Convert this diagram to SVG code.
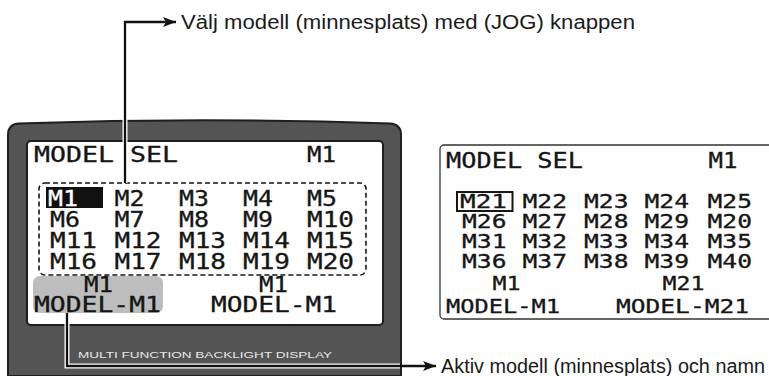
<svg xmlns="http://www.w3.org/2000/svg" width="769" height="376" viewBox="0 0 769 376">
<style>
.lcd{font-family:"DejaVu Sans Mono","Liberation Mono",monospace;font-size:20.5px;fill:#151515;stroke:#151515;stroke-width:0.3}
.sm{font-size:19px}
.inv{fill:#ffffff;stroke:#ffffff}
.lbl{font-family:"Liberation Sans",Arial,sans-serif;font-size:19.5px;fill:#1a1a1a}
.halo{fill:none;stroke:#ffffff;stroke-width:5}
.wire{fill:none;stroke:#111111;stroke-width:2.3}
</style>
<defs>
<marker id="arr" markerUnits="userSpaceOnUse" markerWidth="14" markerHeight="10" refX="13" refY="5" orient="auto">
<path d="M0,0 L13,5 L0,10 L3,5 z" fill="#111111"/>
</marker>
</defs>
<g id="device">
<path d="M8,376 L8,135 Q8,124 19,123.5 Q205,117 390,123.5 Q401,124 401,135 L401,376 Z" fill="#545454" stroke="#1e1e1e" stroke-width="2"/>
<text x="78" y="357.5" font-family="Liberation Sans,Arial,sans-serif" font-size="9.5" fill="#e8e8e8" textLength="254" lengthAdjust="spacingAndGlyphs">MULTI FUNCTION BACKLIGHT DISPLAY</text>
</g>
<g id="screen-left">
<rect x="27" y="141" width="356" height="184" rx="4" fill="#ffffff" stroke="#1e1e1e" stroke-width="2"/>
<text class="lcd" x="34" y="162" textLength="144" lengthAdjust="spacingAndGlyphs">MODEL SEL</text>
<text class="lcd" x="307" y="162" textLength="29" lengthAdjust="spacingAndGlyphs">M1</text>
<rect x="39" y="183" width="327" height="92" rx="6" fill="none" stroke="#151515" stroke-width="1.6" stroke-dasharray="5 3"/>
<rect x="46" y="187" width="57" height="21" fill="#111111"/>
<text class="lcd inv" x="48" y="206" textLength="30" lengthAdjust="spacingAndGlyphs">M1</text>
<text class="lcd" x="114.5" y="206" textLength="30" lengthAdjust="spacingAndGlyphs">M2</text>
<text class="lcd" x="179" y="206" textLength="30" lengthAdjust="spacingAndGlyphs">M3</text>
<text class="lcd" x="243" y="206" textLength="30" lengthAdjust="spacingAndGlyphs">M4</text>
<text class="lcd" x="307" y="206" textLength="30" lengthAdjust="spacingAndGlyphs">M5</text>
<text class="lcd" x="50" y="227" textLength="30" lengthAdjust="spacingAndGlyphs">M6</text>
<text class="lcd" x="114.5" y="227" textLength="30" lengthAdjust="spacingAndGlyphs">M7</text>
<text class="lcd" x="179" y="227" textLength="30" lengthAdjust="spacingAndGlyphs">M8</text>
<text class="lcd" x="243" y="227" textLength="30" lengthAdjust="spacingAndGlyphs">M9</text>
<text class="lcd" x="307" y="227" textLength="47" lengthAdjust="spacingAndGlyphs">M10</text>
<text class="lcd" x="50" y="248" textLength="47" lengthAdjust="spacingAndGlyphs">M11</text>
<text class="lcd" x="114.5" y="248" textLength="47" lengthAdjust="spacingAndGlyphs">M12</text>
<text class="lcd" x="179" y="248" textLength="47" lengthAdjust="spacingAndGlyphs">M13</text>
<text class="lcd" x="243" y="248" textLength="47" lengthAdjust="spacingAndGlyphs">M14</text>
<text class="lcd" x="307" y="248" textLength="47" lengthAdjust="spacingAndGlyphs">M15</text>
<text class="lcd" x="50" y="269" textLength="47" lengthAdjust="spacingAndGlyphs">M16</text>
<text class="lcd" x="114.5" y="269" textLength="47" lengthAdjust="spacingAndGlyphs">M17</text>
<text class="lcd" x="179" y="269" textLength="47" lengthAdjust="spacingAndGlyphs">M18</text>
<text class="lcd" x="243" y="269" textLength="47" lengthAdjust="spacingAndGlyphs">M19</text>
<text class="lcd" x="307" y="269" textLength="47" lengthAdjust="spacingAndGlyphs">M20</text>
<rect x="33" y="276" width="130" height="37" rx="7" fill="#bdbdbd"/>
<text class="lcd" x="84" y="292" textLength="29" lengthAdjust="spacingAndGlyphs">M1</text>
<text class="lcd" x="259" y="292" textLength="29" lengthAdjust="spacingAndGlyphs">M1</text>
<text class="lcd" x="34" y="312" textLength="127" lengthAdjust="spacingAndGlyphs">MODEL-M1</text>
<text class="lcd" x="211" y="312" textLength="126" lengthAdjust="spacingAndGlyphs">MODEL-M1</text>
</g>
<g id="screen-right">
<rect x="440" y="145" width="340" height="174" rx="4" fill="#ffffff" stroke="#333333" stroke-width="1.3"/>
<text class="lcd" x="446" y="168" textLength="137" lengthAdjust="spacingAndGlyphs">MODEL SEL</text>
<text class="lcd" x="708.5" y="168" textLength="29" lengthAdjust="spacingAndGlyphs">M1</text>
<rect x="457" y="192" width="55.5" height="19" fill="none" stroke="#151515" stroke-width="2"/>
<text class="lcd sm" x="460" y="208" textLength="47" lengthAdjust="spacingAndGlyphs">M21</text>
<text class="lcd sm" x="522.5" y="208" textLength="44.5" lengthAdjust="spacingAndGlyphs">M22</text>
<text class="lcd sm" x="584" y="208" textLength="44.5" lengthAdjust="spacingAndGlyphs">M23</text>
<text class="lcd sm" x="644.5" y="208" textLength="44.5" lengthAdjust="spacingAndGlyphs">M24</text>
<text class="lcd sm" x="707.5" y="208" textLength="44.5" lengthAdjust="spacingAndGlyphs">M25</text>
<text class="lcd sm" x="462" y="228" textLength="44.5" lengthAdjust="spacingAndGlyphs">M26</text>
<text class="lcd sm" x="522.5" y="228" textLength="44.5" lengthAdjust="spacingAndGlyphs">M27</text>
<text class="lcd sm" x="584" y="228" textLength="44.5" lengthAdjust="spacingAndGlyphs">M28</text>
<text class="lcd sm" x="644.5" y="228" textLength="44.5" lengthAdjust="spacingAndGlyphs">M29</text>
<text class="lcd sm" x="707.5" y="228" textLength="44.5" lengthAdjust="spacingAndGlyphs">M20</text>
<text class="lcd sm" x="462" y="248" textLength="44.5" lengthAdjust="spacingAndGlyphs">M31</text>
<text class="lcd sm" x="522.5" y="248" textLength="44.5" lengthAdjust="spacingAndGlyphs">M32</text>
<text class="lcd sm" x="584" y="248" textLength="44.5" lengthAdjust="spacingAndGlyphs">M33</text>
<text class="lcd sm" x="644.5" y="248" textLength="44.5" lengthAdjust="spacingAndGlyphs">M34</text>
<text class="lcd sm" x="707.5" y="248" textLength="44.5" lengthAdjust="spacingAndGlyphs">M35</text>
<text class="lcd sm" x="462" y="268" textLength="44.5" lengthAdjust="spacingAndGlyphs">M36</text>
<text class="lcd sm" x="522.5" y="268" textLength="44.5" lengthAdjust="spacingAndGlyphs">M37</text>
<text class="lcd sm" x="584" y="268" textLength="44.5" lengthAdjust="spacingAndGlyphs">M38</text>
<text class="lcd sm" x="644.5" y="268" textLength="44.5" lengthAdjust="spacingAndGlyphs">M39</text>
<text class="lcd sm" x="707.5" y="268" textLength="44.5" lengthAdjust="spacingAndGlyphs">M40</text>
<text class="lcd sm" x="492.5" y="290" textLength="28" lengthAdjust="spacingAndGlyphs">M1</text>
<text class="lcd sm" x="662.5" y="290" textLength="42" lengthAdjust="spacingAndGlyphs">M21</text>
<text class="lcd sm" x="446" y="312.5" textLength="114" lengthAdjust="spacingAndGlyphs">MODEL-M1</text>
<text class="lcd sm" x="616" y="312.5" textLength="133" lengthAdjust="spacingAndGlyphs">MODEL-M21</text>
</g>
<g id="connectors">
<path class="halo" d="M125,183 V118"/>
<path class="wire" d="M125,183 V22 H176" marker-end="url(#arr)"/>
<path class="halo" d="M67,313 V366 H400"/>
<path class="wire" d="M67,313 V366 H436" marker-end="url(#arr)"/>
</g>
<g id="labels">
<text class="lbl" x="181" y="29" textLength="454" lengthAdjust="spacingAndGlyphs">Välj modell (minnesplats) med (JOG) knappen</text>
<text class="lbl" x="441" y="373" textLength="324" lengthAdjust="spacingAndGlyphs">Aktiv modell (minnesplats) och namn</text>
</g>
</svg>
